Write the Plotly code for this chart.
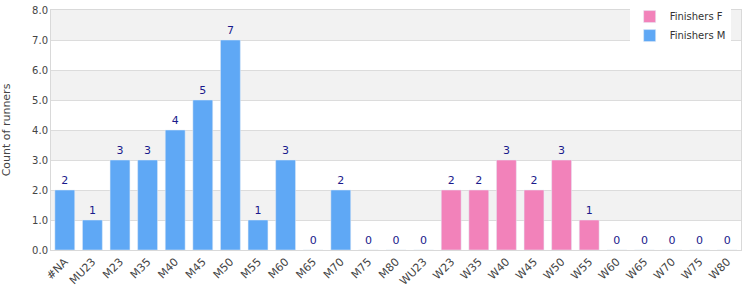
import plotly.graph_objects as go

categories = ["#NA", "MU23", "M23", "M35", "M40", "M45", "M50", "M55", "M60", "M65",
              "M70", "M75", "M80", "WU23", "W23", "W35", "W40", "W45", "W50", "W55",
              "W60", "W65", "W70", "W75", "W80"]
m_cats = ["#NA", "MU23", "M23", "M35", "M40", "M45", "M50", "M55", "M60", "M65",
          "M70", "M75", "M80", "WU23"]
m_vals = [2, 1, 3, 3, 4, 5, 7, 1, 3, 0, 2, 0, 0, 0]
f_cats = ["W23", "W35", "W40", "W45", "W50", "W55", "W60", "W65", "W70", "W75", "W80"]
f_vals = [2, 2, 3, 2, 3, 1, 0, 0, 0, 0, 0]
y_ticks = [0, 1, 2, 3, 4, 5, 6, 7, 8]

BLUE = "#5fa8f5"
PINK = "#f282ba"
LABEL = "#1a1a8c"

fig = go.Figure()
fig.add_trace(go.Bar(x=f_cats, y=f_vals, name="Finishers F", marker_color=PINK,
                     text=[str(v) for v in f_vals], textposition="outside",
                     textfont=dict(color=LABEL, size=11), cliponaxis=False))
fig.add_trace(go.Bar(x=m_cats, y=m_vals, name="Finishers M", marker_color=BLUE,
                     text=[str(v) for v in m_vals], textposition="outside",
                     textfont=dict(color=LABEL, size=11), cliponaxis=False))

shapes = []
for lo in range(1, 8, 2):
    shapes.append(dict(type="rect", xref="paper", yref="y", x0=0, x1=1, y0=lo, y1=lo + 1,
                       fillcolor="#f2f2f2", line_width=0, layer="below"))

fig.update_layout(
    width=750, height=300,
    margin=dict(l=51, r=9, t=10, b=50, autoexpand=False),
    paper_bgcolor="white", plot_bgcolor="white",
    font=dict(family="DejaVu Sans", size=10, color="#444"),
    barmode="overlay", bargap=0.28,
    shapes=shapes,
    showlegend=True,
    legend=dict(x=0.985, xanchor="right", y=1.033, yanchor="top",
                bgcolor="white", font=dict(size=10, color="#333"),
                traceorder="normal", tracegroupgap=0),
    xaxis=dict(categoryorder="array", categoryarray=categories, tickangle=-45,
               showline=True, linecolor="#d9d9d9", mirror=True, ticks="",
               tickfont=dict(size=11, color="#444"), range=[-0.5, 24.5],
               automargin=False),
    yaxis=dict(range=[0, 8], tickvals=y_ticks, tickformat=".1f",
               showgrid=True, gridcolor="#dcdcdc", showline=True, linecolor="#d9d9d9",
               mirror=True, zeroline=False, automargin=False,
               title=dict(text="Count of runners", standoff=19, font=dict(size=11)),
               tickfont=dict(size=10, color="#444")),
)

fig.write_html("out.html")
